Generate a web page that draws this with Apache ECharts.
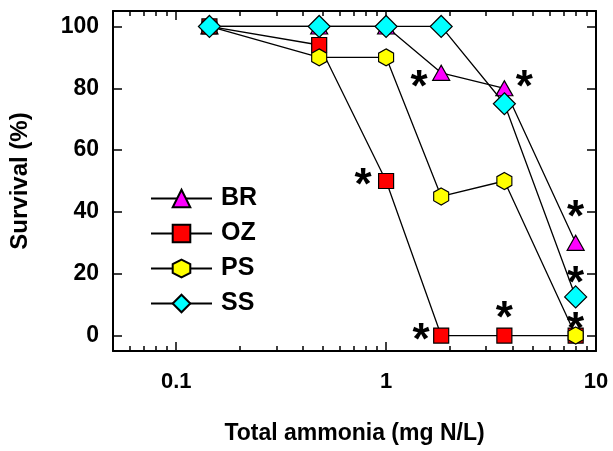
<!DOCTYPE html>
<html>
<head>
<meta charset="utf-8">
<script src="https://cdn.jsdelivr.net/npm/echarts@6/dist/echarts.min.js"></script>
<style>
  html, body { margin: 0; padding: 0; background: #fff; }
  #chart { width: 613px; height: 451px; }
</style>
</head>
<body>
<div id="chart"></div>
<script>
// ammonia concentrations (mg N/L)
const ammonia = [0.144, 0.48, 1.0, 1.83, 3.66, 8.0];
// survival (%) by population
const survivalBR = [100, 100, 100, 85, 80, 30];
const survivalOZ = [100, 94, 50, 0, 0, 0];
const survivalPS = [100, 90, 90, 45, 50, 0];
const survivalSS = [100, 100, 100, 100, 75, 12.5];
// 1 = marked significant (*)
const sigBR = [0, 0, 0, 1, 1, 1];
const sigOZ = [0, 0, 1, 1, 1, 0];
const sigPS = [0, 0, 0, 0, 0, 1];
const sigSS = [0, 0, 0, 0, 0, 1];

const xMajor = [0.1, 1, 10];
const xMinor = [0.06, 0.07, 0.08, 0.09, 0.2, 0.3, 0.4, 0.5, 0.6, 0.7, 0.8, 0.9,
                2, 3, 4, 5, 6, 7, 8, 9];
const yTicks = [0, 20, 40, 60, 80, 100];

const FONT = '"Liberation Sans", Arial, Helvetica, sans-serif';
const chart = echarts.init(document.getElementById('chart'));

// where each asterisk sits relative to its point
const starOffset = {
  BR: [null, null, null, [-22, 16], [20, 1], [0, -24]],
  OZ: [null, null, [-23, 6], [-20, 6], [0, -16], null],
  PS: [null, null, null, null, null, [0, -5]],
  SS: [null, null, null, null, null, [0, -12]]
};

function makeData(name, vals, sig) {
  return vals.map(function (v, i) {
    const item = { value: [ammonia[i], v] };
    if (sig[i]) {
      item.label = {
        show: true,
        position: 'inside',
        offset: starOffset[name][i],
        formatter: '*',
        fontSize: 44,
        fontWeight: 'bold',
        fontFamily: FONT,
        color: '#000'
      };
    }
    return item;
  });
}

const hexagon = 'path://M0,-1L0.866,-0.5L0.866,0.5L0,1L-0.866,0.5L-0.866,-0.5Z';

function lineSeries(name, vals, sig, symbol, size, color, z) {
  return {
    name: name,
    type: 'line',
    xAxisIndex: 0,
    yAxisIndex: 0,
    data: makeData(name, vals, sig),
    symbol: symbol,
    symbolSize: size,
    showAllSymbol: true,
    z: z,
    lineStyle: { color: '#000', width: 1.3 },
    itemStyle: { color: color, borderColor: '#000', borderWidth: 1.2 },
    label: { show: false },
    emphasis: { disabled: true },
    animation: false
  };
}

function xAxisDef(position, ticks, len, showLine, showLabel) {
  return {
    type: 'log',
    logBase: 10,
    min: 0.05,
    max: 10,
    position: position,
    gridIndex: 0,
    axisLine: { show: showLine, onZero: false, lineStyle: { color: '#000', width: 2 } },
    axisTick: { show: true, inside: true, length: len, customValues: ticks,
                lineStyle: { color: '#000', width: 1.5 } },
    axisLabel: {
      show: showLabel,
      customValues: xMajor,
      margin: 20,
      fontSize: 22,
      fontWeight: 'bold',
      fontFamily: FONT,
      color: '#000',
      formatter: function (v) { return String(v); }
    },
    splitLine: { show: false },
    minorTick: { show: false }
  };
}

const xAxes = [
  xAxisDef('bottom', xMajor, 9, true, true),
  xAxisDef('bottom', xMinor, 5, false, false),
  xAxisDef('top', xMajor, 9, true, false),
  xAxisDef('top', xMinor, 5, false, false)
];
xAxes[0].name = 'Total ammonia (mg N/L)';
xAxes[0].nameLocation = 'middle';
xAxes[0].nameGap = 71;
xAxes[0].nameTextStyle = { fontSize: 23, fontWeight: 'bold', fontFamily: FONT, color: '#000' };

function yAxisDef(position, showLabel) {
  return {
    type: 'value',
    min: -5,
    max: 105,
    position: position,
    axisLine: { show: true, onZero: false, lineStyle: { color: '#000', width: 2 } },
    axisTick: { show: true, inside: true, length: 9, customValues: yTicks,
                lineStyle: { color: '#000', width: 1.5 } },
    axisLabel: {
      show: showLabel,
      customValues: yTicks,
      margin: 14,
      fontSize: 23,
      fontWeight: 'bold',
      fontFamily: FONT,
      color: '#000'
    },
    splitLine: { show: false }
  };
}

const yAxes = [yAxisDef('left', true), yAxisDef('right', false)];
yAxes[0].name = 'Survival (%)';
yAxes[0].nameLocation = 'middle';
yAxes[0].nameGap = 81;
yAxes[0].nameTextStyle = { fontSize: 24, fontWeight: 'bold', fontFamily: FONT, color: '#000' };

const option = {
  backgroundColor: '#fff',
  animation: false,
  grid: { left: 111, top: 11, right: 17, bottom: 100, containLabel: false },
  legend: {
    data: ['BR', 'OZ', 'PS', 'SS'],
    orient: 'vertical',
    left: 145,
    top: 181,
    itemWidth: 61,
    itemHeight: 22,
    itemGap: 10,
    textStyle: { fontSize: 25, fontWeight: 'bold', fontFamily: FONT, color: '#000',
                 lineHeight: 22, padding: [0, 0, 0, 4] },
    selectedMode: false
  },
  xAxis: xAxes,
  yAxis: yAxes,
  series: [
    lineSeries('BR', survivalBR, sigBR, 'triangle', [17, 15], '#ff00ff', 2),
    lineSeries('OZ', survivalOZ, sigOZ, 'rect', [15, 15], '#ff0000', 3),
    lineSeries('PS', survivalPS, sigPS, hexagon, [15, 17], '#ffff00', 4),
    lineSeries('SS', survivalSS, sigSS, 'diamond', [22, 22], '#00ffff', 5)
  ]
};

chart.setOption(option);
</script>
</body>
</html>
